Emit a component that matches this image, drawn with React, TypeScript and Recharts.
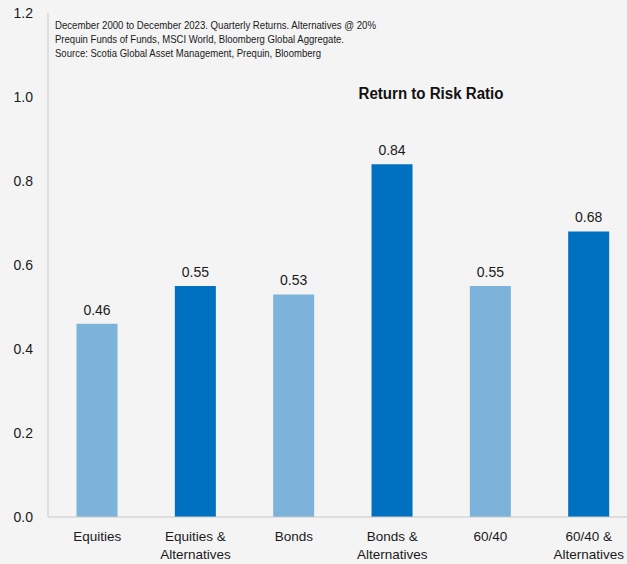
import { Bar, BarChart, Cell, LabelList, XAxis, YAxis } from "recharts";

const categories = [
  "Equities",
  "Equities & Alternatives",
  "Bonds",
  "Bonds & Alternatives",
  "60/40",
  "60/40 & Alternatives",
];
const ratios = [0.46, 0.55, 0.53, 0.84, 0.55, 0.68];
const yTicks = [0, 0.2, 0.4, 0.6, 0.8, 1.0, 1.2];
const notes = [
  "December 2000 to December 2023.  Quarterly Returns. Alternatives @ 20%",
  "Prequin Funds of Funds, MSCI World, Bloomberg Global Aggregate.",
  "Source: Scotia Global Asset Management, Prequin, Bloomberg",
];
const noteWidths = [321, 289, 266];

const LIGHT = "#7DB3DB";
const DARK = "#0070C0";
const FONT = "'Liberation Sans', Arial, sans-serif";

const rows = categories.map((name, i) => ({ name, value: ratios[i] }));

function CategoryTick({ x, y, payload }: any) {
  const text: string = payload.value;
  const parts = text.includes(" & ") ? [text.replace(" & Alternatives", " &"), "Alternatives"] : [text];
  return (
    <text x={x} y={y} textAnchor="middle" fontFamily={FONT} fontSize={13.5} fill="#1a1a1a">
      {parts.map((p, i) => (
        <tspan key={i} x={x} dy={i === 0 ? 16 : 18}>
          {p}
        </tspan>
      ))}
    </text>
  );
}

export default function App() {
  return (
    <div
      style={{
        position: "fixed",
        left: 0,
        top: 0,
        width: 627,
        height: 564,
        overflow: "hidden",
        background: "#F4F4F4",
      }}
    >
      <BarChart
        width={638}
        height={564}
        data={rows}
        margin={{ top: 13, right: 0, bottom: 0, left: 0 }}
        barCategoryGap="29%"
      >
        <XAxis
          dataKey="name"
          axisLine={{ stroke: "#C8C8C8" }}
          tickLine={false}
          height={47}
          interval={0}
          tick={<CategoryTick />}
        />
        <YAxis
          width={48}
          domain={[0, 1.2]}
          ticks={yTicks}
          axisLine={{ stroke: "#C8C8C8" }}
          tickLine={false}
          tickMargin={9}
          tickFormatter={(v: number) => v.toFixed(1)}
          tick={{ fill: "#1a1a1a", fontSize: 14, fontFamily: FONT }}
        />
        <Bar dataKey="value" isAnimationActive={false}>
          {rows.map((_, i) => (
            <Cell key={i} fill={i % 2 === 0 ? LIGHT : DARK} />
          ))}
          <LabelList
            dataKey="value"
            position="top"
            offset={9}
            formatter={(v: any) => Number(v).toFixed(2)}
            style={{ fill: "#1a1a1a", fontSize: 14, fontFamily: FONT }}
          />
        </Bar>
        {notes.map((line, i) => (
          <text
            key={i}
            x={55}
            y={29 + i * 14}
            fontFamily={FONT}
            fontSize={11}
            fill="#1a1a1a"
            textLength={noteWidths[i]}
            lengthAdjust="spacingAndGlyphs"
          >
            {line}
          </text>
        ))}
        <text
          x={431}
          y={99}
          textAnchor="middle"
          fontFamily={FONT}
          fontSize={16}
          fontWeight="bold"
          fill="#111"
          textLength={145}
          lengthAdjust="spacingAndGlyphs"
        >
          Return to Risk Ratio
        </text>
      </BarChart>
    </div>
  );
}
